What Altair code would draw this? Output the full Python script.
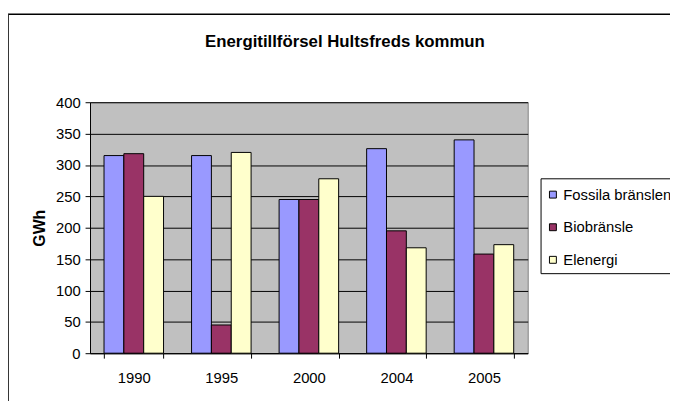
import altair as alt
import pandas as pd

years = ["1990", "1995", "2000", "2004", "2005"]
series = ["Fossila bränslen", "Biobränsle", "Elenergi"]
fossila = [315, 315, 245, 326, 340]
bio = [318, 45, 245, 195, 158]
el = [250, 320, 278, 168, 173]
colors = ["#9999FF", "#993366", "#FFFFCC"]
y_ticks = [0, 50, 100, 150, 200, 250, 300, 350, 400]
title_text = "Energitillförsel Hultsfreds kommun"
y_title = "GWh"

rows = []
for i, yr in enumerate(years):
    for s, vals in zip(series, [fossila, bio, el]):
        rows.append({"year": yr, "serie": s, "value": vals[i]})
df = pd.DataFrame(rows)

FONT = "Liberation Sans"
W, H = 443, 254

bars = alt.Chart(df).mark_bar(stroke="black", strokeWidth=1).encode(
    x=alt.X("year:N", sort=years, title=None,
            scale=alt.Scale(paddingInner=0.32, paddingOuter=0.16),
            axis=alt.Axis(labelAngle=0, tickBand="extent", domainColor="black",
                          tickColor="black", tickSize=5, labelFontSize=15,
                          labelFont=FONT, labelColor="black", labelPadding=13,
                          grid=False)),
    xOffset=alt.XOffset("serie:N", sort=series, scale=alt.Scale(paddingInner=0, paddingOuter=0)),
    y=alt.Y("value:Q", title=y_title,
            scale=alt.Scale(domain=[0, 400], nice=False),
            axis=alt.Axis(values=y_ticks, domainColor="black", tickColor="black",
                          tickSize=5, labelFontSize=15, labelFont=FONT,
                          labelColor="black", labelPadding=5,
                          grid=True, gridColor="black", gridOpacity=1,
                          titleFont=FONT, titleFontSize=16, titleFontWeight="bold",
                          titleColor="black", titlePadding=8)),
    color=alt.Color("serie:N", sort=series,
                    scale=alt.Scale(domain=series, range=colors),
                    legend=alt.Legend(title=" ", titleFontSize=1, titlePadding=3,
                                      orient="none", legendX=456, legendY=77,
                                      symbolType="square", symbolSize=49,
                                      symbolStrokeColor="black", symbolStrokeWidth=1,
                                      labelFont=FONT, labelFontSize=15, labelColor="black",
                                      strokeColor="black", fillColor="white",
                                      padding=5, rowPadding=17, labelOffset=3,
                                      labelLimit=300)),
)

title = alt.Chart(pd.DataFrame({"t": [title_text]})).mark_text(
    font=FONT, fontSize=17, fontWeight="bold", color="black",
    baseline="alphabetic", align="center", clip=False
).encode(text="t:N", x=alt.value(258), y=alt.value(-56))

frame_df = pd.DataFrame({"k": [0]})
top_line = alt.Chart(frame_df).mark_rule(color="black", strokeWidth=1.5, clip=False).encode(
    x=alt.value(-83), x2=alt.value(590), y=alt.value(-89))
left_line = alt.Chart(frame_df).mark_rule(color="#333333", strokeWidth=2, clip=False).encode(
    x=alt.value(-83), y=alt.value(-89), y2=alt.value(310))

chart = alt.layer(bars, title, top_line, left_line).properties(
    width=W, height=H,
    autosize=alt.AutoSizeParams(type="none"),
    padding={"left": 83, "top": 93, "right": 144, "bottom": 46},
).configure_view(fill="#C0C0C0", stroke="#808080", strokeWidth=1)

chart.save("out.html", embed_options={"renderer": "svg", "actions": False})
